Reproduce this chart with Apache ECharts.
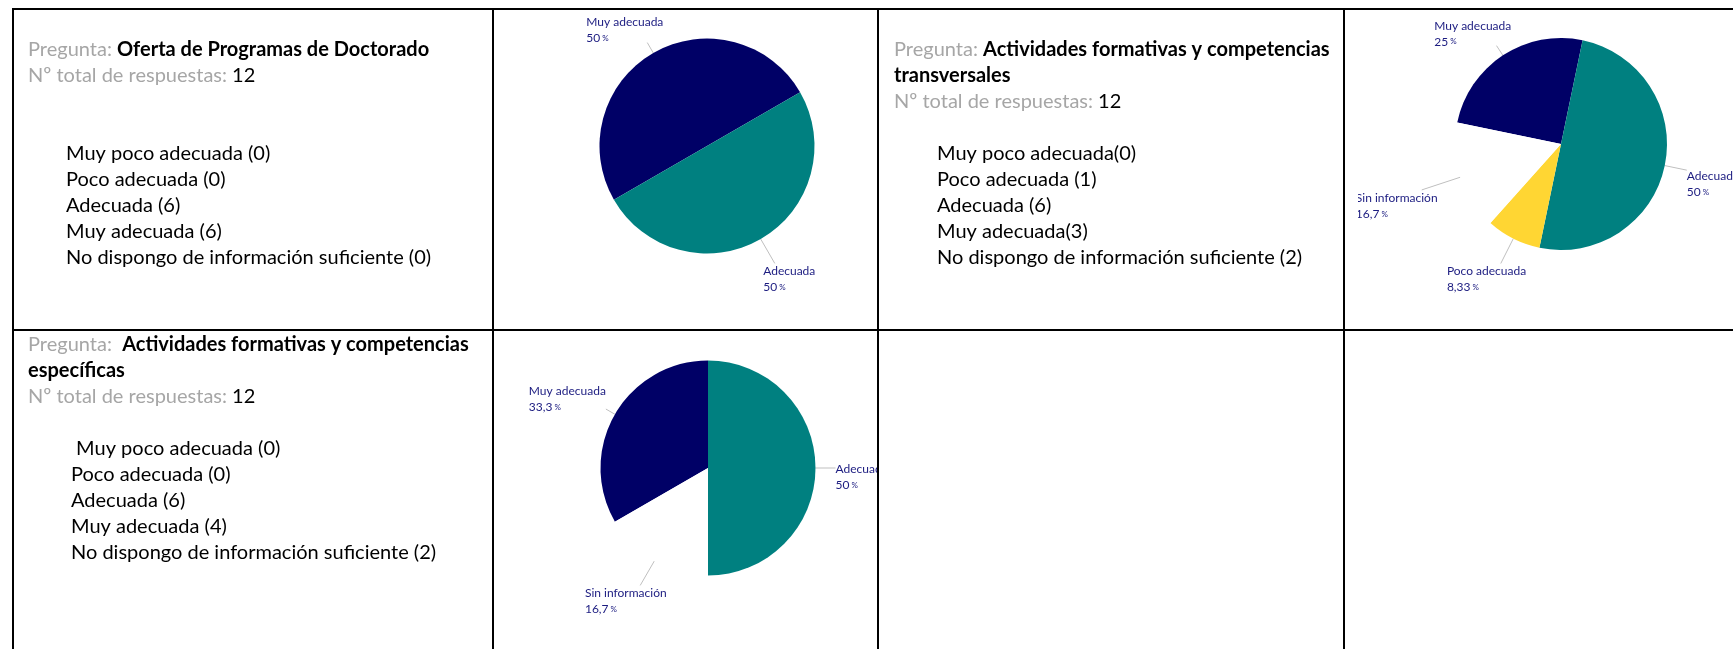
<!DOCTYPE html>
<html>
<head>
<meta charset="utf-8">
<script src="https://cdn.jsdelivr.net/npm/echarts@6/dist/echarts.min.js"></script>
<style>
html, body { margin: 0; padding: 0; background: #ffffff; }
#bg { position: absolute; left: 0; top: 0; width: 1733px; height: 649px; }
.pie { position: absolute; overflow: hidden; }
#pie1 { left: 494px; top: 10px; width: 383px; height: 319px; }
#pie2 { left: 1358px; top: 10px; width: 375px; height: 319px; }
#pie3 { left: 494px; top: 331px; width: 383px; height: 318px; }
</style>
</head>
<body>
<div id="bg"></div>
<div id="pie1" class="pie"></div>
<div id="pie2" class="pie"></div>
<div id="pie3" class="pie"></div>
<script>
// ---------------- DATA ----------------
const answerNames = ['Muy poco adecuada', 'Poco adecuada', 'Adecuada', 'Muy adecuada', 'No dispongo de información suficiente'];
const pieNames = ['Muy poco adecuada', 'Poco adecuada', 'Adecuada', 'Muy adecuada', 'Sin información'];
const pieOrder = [3, 2, 1, 0, 4];

const title1 = ['Oferta de Programas de Doctorado'];
const title2 = ['Actividades formativas y competencias', 'transversales'];
const title3 = ['Actividades formativas y competencias', 'específicas'];

const counts1 = [0, 0, 6, 6, 0];
const counts2 = [0, 1, 6, 3, 2];
const counts3 = [0, 0, 6, 4, 2];

const listSep1 = [' ', ' ', ' ', ' ', ' '];
const listSep2 = ['', ' ', ' ', '', ' '];
const listSep3 = [' ', ' ', ' ', ' ', ' '];

// ---------------- STYLE ----------------
const FONT = 'Lato';
const BODY_SIZE = 20;
const LINE_H = 26;
const sliceColors = ['#C0504D', '#FFD633', '#008080', '#000066', '#FFFFFF'];
const labelColor = '#1c1c80';

// ---------------- BACKGROUND (table + text) ----------------
const elements = [];
function line(x1, y1, x2, y2) {
  elements.push({ type: 'line', silent: true, shape: { x1, y1, x2, y2 }, style: { stroke: '#000', lineWidth: 2 } });
}
line(12, 9, 1733, 9);
line(12, 330, 1733, 330);
[13, 493, 878, 1344].forEach(x => line(x, 8, x, 649));

const richBody = {
  g: { fill: '#A6A6A6', fontSize: BODY_SIZE, fontFamily: FONT },
  b: { fill: '#000', fontSize: BODY_SIZE, fontFamily: FONT, fontWeight: 'bold' },
  k: { fill: '#000', fontSize: BODY_SIZE, fontFamily: FONT },
  t: { fill: '#000', fontSize: BODY_SIZE, fontFamily: FONT }
};
function text(x, y, str) {
  elements.push({ type: 'text', silent: true, x, y,
    style: { text: str, rich: richBody, verticalAlign: 'middle', align: 'left', fontSize: BODY_SIZE, fontFamily: FONT } });
}
function question(title, counts, seps, gap, pos) {
  const total = counts.reduce((a, b) => a + b, 0);
  let y = pos.y;
  title.forEach((t, i) => {
    text(pos.x, y, i === 0 ? '{g|Pregunta:' + gap + '}{b|' + t + '}' : '{b|' + t + '}');
    y += LINE_H;
  });
  text(pos.x, y, '{g|Nº total de respuestas: }{k|' + total + '}');
  answerNames.forEach((n, i) => {
    text(pos.lx, pos.ly + i * LINE_H, '{t|' + (i === 0 ? pos.lead : '') + n + seps[i] + '(' + counts[i] + ')}');
  });
}
question(title1, counts1, listSep1, ' ', { x: 28, y: 50, lx: 66, ly: 154, lead: '' });
question(title2, counts2, listSep2, ' ', { x: 894, y: 50, lx: 937, ly: 154, lead: '' });
question(title3, counts3, listSep3, '  ', { x: 28, y: 345, lx: 71, ly: 449, lead: ' ' });

const bg = echarts.init(document.getElementById('bg'));
bg.setOption({ animation: false, graphic: { elements } });

// ---------------- PIES ----------------
function fmtPct(x) {
  return String(parseFloat(x.toPrecision(3))).replace('.', ',');
}
const LABEL_DIST = 20;   // distance from pie edge before label box
const LABEL_DY = 7;      // downward shift of label boxes
const LABEL_DX = 12;     // outward horizontal shift for top/bottom labels
function rayBoxEntry(px, py, ux, uy, x0, y0, x1, y1) {
  let tmin = -Infinity, tmax = Infinity;
  const axes = [[px, ux, x0, x1], [py, uy, y0, y1]];
  for (const [p, u, a, b] of axes) {
    if (Math.abs(u) < 1e-9) {
      if (p < a || p > b) return null;
    } else {
      const t1 = (a - p) / u, t2 = (b - p) / u;
      tmin = Math.max(tmin, Math.min(t1, t2));
      tmax = Math.min(tmax, Math.max(t1, t2));
    }
  }
  if (tmax >= Math.max(tmin, 0)) return Math.max(tmin, 0);
  return null;
}
function radialLayout(params) {
  const pts = params.labelLinePoints;
  if (!pts) return {};
  const p0 = pts[0], p1 = pts[1];
  let ux = p1[0] - p0[0], uy = p1[1] - p0[1];
  const len = Math.hypot(ux, uy) || 1;
  ux /= len; uy /= len;
  const w = params.labelRect.width, h = params.labelRect.height;
  const tx = Math.abs(ux) > 1e-6 ? (w / 2) / Math.abs(ux) : Infinity;
  const ty = Math.abs(uy) > 1e-6 ? (h / 2) / Math.abs(uy) : Infinity;
  const t = Math.min(tx, ty);
  const cx = p0[0] + ux * (LABEL_DIST + t) + Math.sign(ux) * LABEL_DX * Math.abs(uy);
  const cy = p0[1] + uy * (LABEL_DIST + t) + LABEL_DY;
  const x0 = cx - w / 2, y0 = cy - h / 2, x1 = cx + w / 2, y1 = cy + h / 2;
  let s = rayBoxEntry(p0[0], p0[1], ux, uy, x0, y0, x1, y1);
  let end;
  if (s === null) {
    end = [Math.min(Math.max(p0[0], x0), x1), Math.min(Math.max(p0[1], y0), y1)];
  } else {
    end = [p0[0] + ux * s, p0[1] + uy * s];
  }
  return { x: x0, y: y0, align: 'left', verticalAlign: 'top',
           labelLinePoints: [[p0[0], p0[1]], end] };
}
function pieOption(counts, startAngle, center, radius) {
  const total = counts.reduce((a, b) => a + b, 0);
  const data = pieOrder.map(i => ({
    name: pieNames[i],
    value: counts[i],
    itemStyle: { color: sliceColors[i] },
    label: { show: counts[i] > 0 },
    labelLine: { show: counts[i] > 0 }
  }));
  return {
    animation: false,
    series: [{
      type: 'pie',
      silent: true,
      center: center,
      radius: radius,
      startAngle: startAngle,
      clockwise: true,
      avoidLabelOverlap: false,
      itemStyle: { borderWidth: 0 },
      label: {
        position: 'outside',
        color: labelColor,
        formatter: p => '{n|' + p.name + '}\n{v|' + fmtPct(p.value / total * 100) + '}{p| %}',
        rich: {
          n: { color: labelColor, fontSize: 12, lineHeight: 16, fontFamily: FONT },
          v: { color: labelColor, fontSize: 12, lineHeight: 16, fontFamily: FONT },
          p: { color: labelColor, fontSize: 8, lineHeight: 16, fontFamily: FONT }
        }
      },
      labelLine: { show: true, length: 20, length2: 0, smooth: false, lineStyle: { color: '#BFBFBF', width: 1 } },
      labelLayout: radialLayout,
      data: data
    }]
  };
}
echarts.init(document.getElementById('pie1')).setOption(pieOption(counts1, 210, [213, 136], 107.5));
echarts.init(document.getElementById('pie2')).setOption(pieOption(counts2, 168.25, [203, 134], 106));
echarts.init(document.getElementById('pie3')).setOption(pieOption(counts3, 210, [214, 137], 107.5));
</script>
</body>
</html>
